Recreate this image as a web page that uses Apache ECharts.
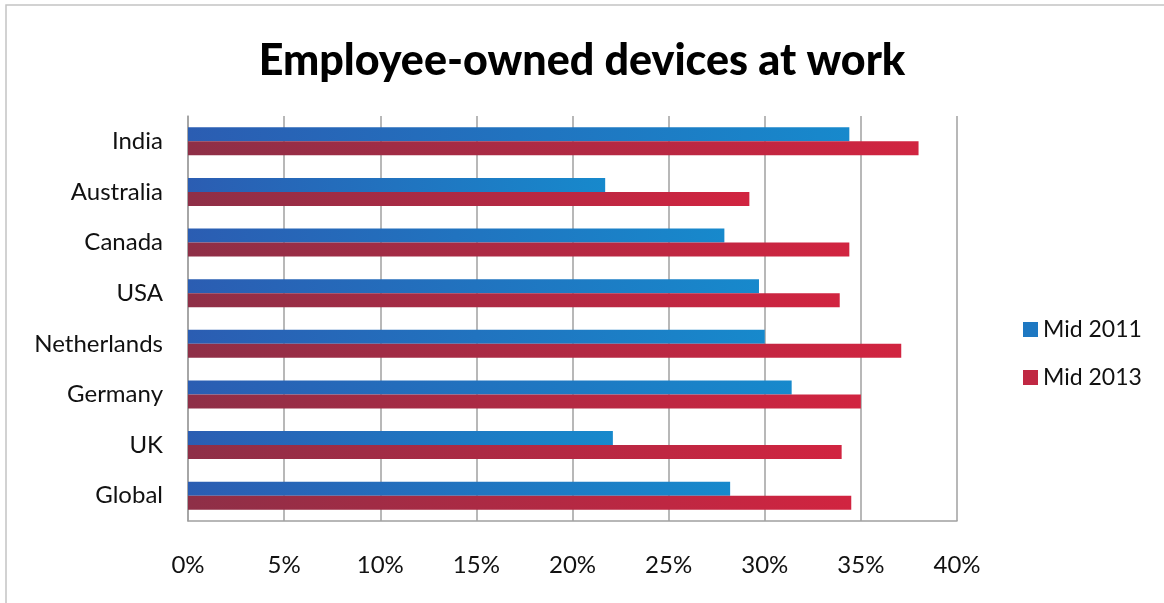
<!DOCTYPE html>
<html>
<head>
<meta charset="utf-8">
<script src="https://cdn.jsdelivr.net/npm/echarts@6/dist/echarts.min.js"></script>
<style>
  html, body { margin: 0; padding: 0; background: #fff; }
  #chart { width: 1164px; height: 603px; }
</style>
</head>
<body>
<div id="chart"></div>
<script>
'use strict';

// top to bottom, as in the picture
var countries = ['India', 'Australia', 'Canada', 'USA', 'Netherlands', 'Germany', 'UK', 'Global'];
var mid2011 = [34.4, 21.7, 27.9, 29.7, 30.0, 31.4, 22.1, 28.2];
var mid2013 = [38.0, 29.2, 34.4, 33.9, 37.1, 35.0, 34.0, 34.5];
var seriesNames = ['Mid 2011', 'Mid 2013'];
var tickMax = 40, tickStep = 5;

var font = 'Lato, "Open Sans", sans-serif';

function grad(from, to) {
  return new echarts.graphic.LinearGradient(0, 0, 1, 0, [
    { offset: 0, color: from },
    { offset: 1, color: to }
  ]);
}

var chart = echarts.init(document.getElementById('chart'));
chart.setOption({
  backgroundColor: '#fff',
  animation: false,
  textStyle: { fontFamily: font },
  title: {
    text: 'Employee-owned devices at work',
    left: 'center',
    top: 35,
    textStyle: { fontFamily: font, fontSize: 43, fontWeight: 900, color: '#000' }
  },
  graphic: [{
    type: 'rect',
    shape: { x: 6, y: 5, width: 1170, height: 610 },
    style: { fill: 'none', stroke: '#c4c4c4', lineWidth: 1.5 },
    silent: true
  }],
  legend: {
    orient: 'vertical',
    left: 1018,
    top: 313,
    itemWidth: 15,
    itemHeight: 15,
    itemGap: 25,
    textStyle: { fontFamily: font, fontSize: 23, color: '#111' },
    data: [
      { name: seriesNames[0], icon: 'rect', itemStyle: { color: '#1e78c2' } },
      { name: seriesNames[1], icon: 'rect', itemStyle: { color: '#c02843' } }
    ]
  },
  grid: { left: 188, right: 207, top: 116, bottom: 82, containLabel: false },
  xAxis: {
    type: 'value',
    min: 0,
    max: tickMax,
    interval: tickStep,
    axisLine: { show: true, lineStyle: { color: '#a0a0a0', width: 1.5 } },
    axisTick: { show: false },
    splitLine: { show: true, lineStyle: { color: '#a0a0a0', width: 1.5 } },
    axisLabel: {
      formatter: '{value}%',
      margin: 32,
      fontFamily: font,
      fontSize: 24,
      color: '#111'
    }
  },
  yAxis: {
    type: 'category',
    inverse: true,
    data: countries,
    axisLine: { show: true, lineStyle: { color: '#a0a0a0', width: 1.5 } },
    axisTick: { show: false },
    axisLabel: { margin: 25, fontFamily: font, fontSize: 24, color: '#111' }
  },
  series: [{
    name: seriesNames[0],
    type: 'bar',
    data: mid2011,
    barWidth: 14,
    barGap: '0%',
    itemStyle: { color: grad('#2b5db2', '#1789cc') }
  }, {
    name: seriesNames[1],
    type: 'bar',
    data: mid2013,
    barWidth: 14,
    barGap: '0%',
    itemStyle: { color: grad('#8e2f47', '#d12440') }
  }]
});
</script>
</body>
</html>
